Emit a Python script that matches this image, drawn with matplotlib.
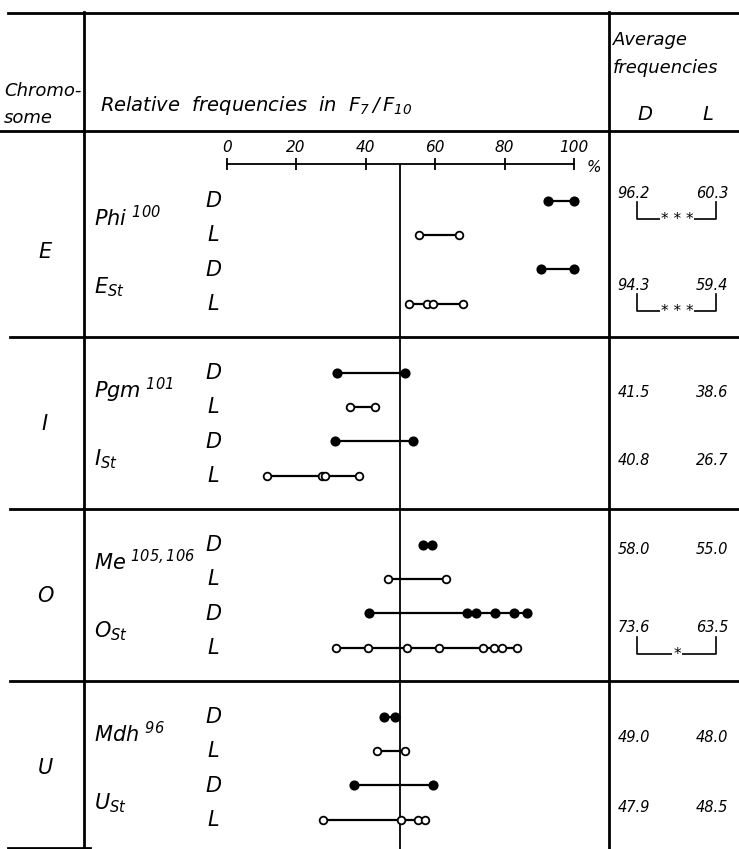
import matplotlib
matplotlib.use('Agg')
import matplotlib.pyplot as plt

plt.rcParams['font.family'] = ['DejaVu Sans']
plt.rcParams['font.style'] = 'italic'
plt.rcParams['mathtext.fontset'] = 'custom'
plt.rcParams['mathtext.it'] = 'DejaVu Sans:italic'
plt.rcParams['mathtext.rm'] = 'DejaVu Sans:italic'
plt.rcParams['mathtext.default'] = 'it'

# ---------------- data ----------------
chromosomes = ['E', 'I', 'O', 'U']
gene_labels = [r'$Phi^{\ 100}$', r'$E_{St}$',
               r'$Pgm^{\ 101}$', r'$I_{St}$',
               r'$Me^{\ 105,106}$', r'$O_{St}$',
               r'$Mdh^{\ 96}$', r'$U_{St}$']
row_types = ['D', 'L']

phi_D = [92.6, 100.0]
phi_L = [55.3, 66.9]
est_D = [90.4, 100.0]
est_L = [52.5, 57.7, 59.5, 68.0]
pgm_D = [31.7, 51.2]
pgm_L = [35.4, 42.6]
ist_D = [31.3, 53.6]
ist_L = [11.5, 27.4, 28.3, 38.0]
me_D = [56.4, 59.2]
me_L = [46.4, 63.1]
ost_D = [41.1, 69.1, 71.8, 77.3, 82.7, 86.6]
ost_L = [31.5, 40.8, 52.0, 61.1, 73.7, 77.1, 79.2, 83.7]
mdh_D = [45.4, 48.5]
mdh_L = [43.2, 51.3]
ust_D = [36.7, 59.4]
ust_L = [27.7, 50.1, 55.1, 57.1]

series = [phi_D, phi_L, est_D, est_L,
          pgm_D, pgm_L, ist_D, ist_L,
          me_D, me_L, ost_D, ost_L,
          mdh_D, mdh_L, ust_D, ust_L]

avg_D = ['96.2', '94.3', '41.5', '40.8', '58.0', '73.6', '49.0', '47.9']
avg_L = ['60.3', '59.4', '38.6', '26.7', '55.0', '63.5', '48.0', '48.5']
significance = ['* * *', '* * *', '', '', '', '*', '', '']

scale_ticks = [0, 20, 40, 60, 80, 100]

# ---------------- layout ----------------
W, H = 739, 849
fig = plt.figure(figsize=(W / 100, H / 100), dpi=100)

bg = fig.add_axes([0, 0, 1, 1])
bg.set_xlim(0, W)
bg.set_ylim(H, 0)
bg.axis('off')

Y0, DY = 200.7, 34.4          # pixel y of first row, pixels per row unit
X0, X100 = 226.7, 574.0       # pixel x of 0 % and 100 %


def row_px(r):
    return Y0 + DY * r


r_top, r_bot = -0.6, 18.6
ax = fig.add_axes([X0 / W, 1 - row_px(r_bot) / H,
                   (X100 - X0) / W, (row_px(r_bot) - row_px(r_top)) / H])
ax.set_xlim(0, 100)
ax.set_ylim(r_bot, r_top)
ax.patch.set_alpha(0)
for s in ['left', 'right', 'bottom']:
    ax.spines[s].set_visible(False)
scale_row = (164.5 - Y0) / DY
ax.spines['top'].set_position(('data', scale_row))
ax.spines['top'].set_bounds(0, 100)
ax.spines['top'].set_linewidth(1.3)
ax.xaxis.set_ticks_position('top')
ax.set_xticks(scale_ticks)
ax.set_xticklabels([str(t) for t in scale_ticks], fontsize=11, style='italic')
ax.tick_params(axis='x', direction='inout', length=8, width=1.3, pad=3)
ax.set_yticks([])
ax.text(1.035, (scale_row - r_bot) / (r_top - r_bot) - 0.004, '%', transform=ax.transAxes,
        fontsize=11, va='center', ha='left')

# centre line at 50 %
ax.axvline(50, ymin=-0.02, ymax=(row_px(r_bot) - 164.5) / (row_px(r_bot) - row_px(r_top)),
           color='black', lw=1.3, clip_on=False)

# dot rows
for i, vals in enumerate(series):
    g, k = divmod(i, 4)
    r = 5 * g + k
    filled = (k % 2 == 0)
    ax.plot([min(vals), max(vals)], [r, r], color='black', lw=1.6,
            solid_capstyle='butt', zorder=2, clip_on=False)
    ax.plot(vals, [r] * len(vals), linestyle='none', marker='o',
            markersize=6 if filled else 5.5,
            markerfacecolor='black' if filled else 'white',
            markeredgecolor='black', markeredgewidth=1.3, zorder=3, clip_on=False)
    # D / L labels
    bg.text(213, row_px(r), row_types[k % 2], fontsize=15, ha='center', va='center')

# ---------------- table frame ----------------
lw = 2.0
bg.plot([8, W], [12.5, 12.5], color='black', lw=lw)
bg.plot([0, W], [131, 131], color='black', lw=lw)
for yy in [337, 509, 681]:
    bg.plot([10, W], [yy, yy], color='black', lw=lw)
bg.plot([8, 90], [847.5, 847.5], color='black', lw=lw)
bg.plot([84, 84], [12, H], color='black', lw=lw)
bg.plot([609, 609], [12, H], color='black', lw=lw)

# header
bg.text(4, 91, 'Chromo-', fontsize=13, ha='left', va='center')
bg.text(4, 118, 'some', fontsize=13, ha='left', va='center')
bg.text(100, 105, r'Relative  frequencies  in  $F_7\,/\,F_{10}$', fontsize=14,
        ha='left', va='center')
bg.text(613, 40, 'Average', fontsize=13, ha='left', va='center')
bg.text(613, 68, 'frequencies', fontsize=13, ha='left', va='center')
bg.text(645, 114, 'D', fontsize=14, ha='center', va='center')
bg.text(708, 114, 'L', fontsize=14, ha='center', va='center')

# chromosome and gene labels
for g, ch in enumerate(chromosomes):
    bg.text(45, row_px(5 * g + 1.5), ch, fontsize=15, ha='center', va='center')
    for j in range(2):
        bg.text(94, row_px(5 * g + 2 * j + 0.5), gene_labels[2 * g + j], fontsize=15,
                ha='left', va='center')

# average frequencies
val_y = [193, 285, 392, 460, 550, 628, 738, 808]
for i in range(8):
    bg.text(634, val_y[i], avg_D[i], fontsize=10.5, ha='center', va='center')
    bg.text(712, val_y[i], avg_L[i], fontsize=10.5, ha='center', va='center')
    if significance[i]:
        yt, yb = val_y[i] + 9, val_y[i] + 26
        bg.plot([637, 637, 716, 716], [yt, yb, yb, yt], color='black', lw=1.2)
        bg.text(677, yb, significance[i], fontsize=11, ha='center', va='center',
                bbox=dict(facecolor='white', edgecolor='none', pad=0.5))

fig.savefig('out.png', dpi=100)
